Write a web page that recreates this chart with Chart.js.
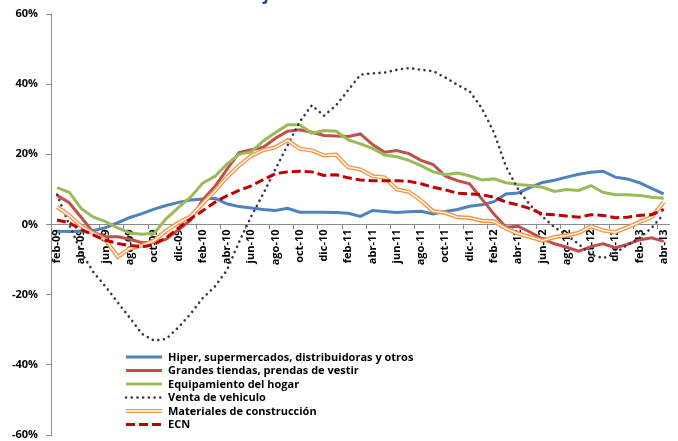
<!DOCTYPE html>
<html lang="es">
<head>
<meta charset="utf-8">
<title>Ventas del comercio minorista</title>
<script src="https://cdn.jsdelivr.net/npm/chart.js@4.4.1/dist/chart.umd.min.js"></script>
<style>
  html, body { margin: 0; padding: 0; background: #fff; }
  #grafico { display: block; }
</style>
</head>
<body>
<canvas id="grafico" width="678" height="441"></canvas>
<script>
// Porcentaje de variación interanual, feb-09 a abr-13
const titulo = 'Porcentaje de variación interanual';

const meses = [
  'feb-09','mar-09','abr-09','may-09','jun-09','jul-09','ago-09','sep-09','oct-09','nov-09','dic-09',
  'ene-10','feb-10','mar-10','abr-10','may-10','jun-10','jul-10','ago-10','sep-10','oct-10','nov-10','dic-10',
  'ene-11','feb-11','mar-11','abr-11','may-11','jun-11','jul-11','ago-11','sep-11','oct-11','nov-11','dic-11',
  'ene-12','feb-12','mar-12','abr-12','may-12','jun-12','jul-12','ago-12','sep-12','oct-12','nov-12','dic-12',
  'ene-13','feb-13','mar-13','abr-13'
];

const hiper = [-1.9,-2.0,-1.9,-1.8,-0.9,0.5,2.0,3.1,4.4,5.4, 6.3,7.0,7.3,7.5,5.9,5.1,4.7,4.3,4.0,4.6,
  3.5,3.5,3.5,3.4,3.2,2.3,4.0,3.7,3.4,3.6, 3.8,3.0,3.7,4.3,5.2,5.6,6.5,8.7,9.0,10.6,
  12.0,12.6,13.5,14.3,14.9,15.2,13.5,13.0,11.9,10.3, 8.7];

const grandes = [8.3,6.2,2.0,-2.3,-3.5,-3.5,-4.2,-5.2,-5.0,-4.2, -1.5,1.2,7.0,10.8,15.7,20.5,21.3,22.0,24.6,26.6,
  27.0,26.3,25.4,25.2,25.1,25.8,22.8,20.6,21.1,20.2, 18.3,17.1,13.8,12.5,11.6,7.3,3.0,-0.8,-0.5,-2.2,
  -4.1,-5.5,-6.5,-7.6,-6.3,-5.5,-6.6,-5.7,-4.4,-3.8, -4.8];

const equipamiento = [10.5,9.2,4.5,2.1,0.8,-1.0,-2.4,-2.8,-2.5,1.7, 4.8,7.8,11.8,13.7,17.2,20.0,20.7,23.8,26.2,28.4,
  28.4,26.0,26.8,26.6,24.1,23.0,21.7,19.8,19.3,18.3, 16.8,15.0,14.2,14.7,13.9,12.7,13.0,11.9,11.4,11.1,
  10.6,9.4,10.0,9.7,11.1,9.2,8.5,8.5,8.3,7.8, 7.5];

const vehiculos = [8.5,0.0,-8.0,-13.6,-17.7,-22.2,-26.6,-31.2,-33.1,-32.6, -29.3,-25.5,-21.0,-17.7,-13.0,-5.0,2.3,8.8,15.8,22.6,
  29.3,34.0,31.0,34.0,38.3,42.7,43.1,43.3,44.1,44.6, 44.1,43.7,41.9,39.8,38.0,33.2,26.3,16.5,10.0,5.5,
  2.3,-0.8,-3.0,-5.6,-8.6,-9.6,-8.2,-5.8,-3.8,-1.0, 3.0];

const construccion = [5.0,2.6,-0.5,-2.5,-4.4,-9.2,-6.8,-6.0,-4.6,-1.8, 0.5,2.3,6.0,9.5,13.5,16.8,19.6,21.2,22.0,24.0,
  21.6,21.1,19.7,19.9,16.3,15.7,13.8,13.4,10.0,9.3, 6.8,3.8,3.3,2.1,1.9,1.1,0.9,-1.2,-2.6,-3.6,
  -4.6,-3.6,-3.1,-2.4,-0.5,-1.7,-2.2,-0.8,0.7,2.1, 6.4];

const ecn = [1.3,0.5,-1.5,-3.0,-4.5,-5.4,-6.0,-6.4,-5.7,-3.8, -1.0,1.6,3.9,6.3,8.2,9.7,11.0,12.8,14.5,15.0,
  15.2,15.0,14.0,14.2,13.3,12.7,12.5,12.5,12.5,12.3, 11.6,10.6,9.9,8.9,8.7,8.5,7.8,6.4,5.6,4.5,
  3.0,2.8,2.4,2.1,2.8,2.6,1.9,2.1,2.6,2.8, 4.3];

const fuente = '"Open Sans", "Liberation Sans", sans-serif';
const colorEje = '#8c8c8c';

// leyenda dibujada dentro del área del gráfico, abajo a la izquierda
const leyenda = {
  id: 'leyenda',
  afterDraw(chart) {
    const ctx = chart.ctx;
    const sets = chart.data.datasets;
    let fila = 0;
    ctx.save();
    sets.forEach((ds, i) => {
      if (ds.interior) return;
      const y = 357 + fila * 13.5;
      const trazar = (d) => {
        ctx.beginPath();
        ctx.setLineDash(d.borderDash || []);
        ctx.lineCap = d.borderCapStyle || 'butt';
        ctx.lineWidth = d.borderWidth;
        ctx.strokeStyle = d.borderColor;
        ctx.moveTo(126, y);
        ctx.lineTo(162, y);
        ctx.stroke();
      };
      trazar(ds);
      if (sets[i + 1] && sets[i + 1].interior) trazar(sets[i + 1]);
      ctx.setLineDash([]);
      ctx.fillStyle = '#000';
      ctx.font = 'bold 11px ' + fuente;
      ctx.textAlign = 'left';
      ctx.textBaseline = 'middle';
      ctx.fillText(ds.label, 168, y + 0.5);
      fila++;
    });
    ctx.restore();
  }
};

// el título queda recortado por el borde superior
const tituloCortado = {
  id: 'tituloCortado',
  afterDraw(chart) {
    const ctx = chart.ctx;
    ctx.save();
    ctx.font = 'bold 17px ' + fuente;
    ctx.fillStyle = '#1F497D';
    ctx.textAlign = 'center';
    ctx.textBaseline = 'alphabetic';
    ctx.fillText(titulo, 334, 0.4);
    ctx.restore();
  }
};

const serie = (label, data, color, extra) => Object.assign({
  label, data,
  borderColor: color,
  backgroundColor: color,
  borderWidth: 3,
  pointRadius: 0,
  tension: 0,
  fill: false
}, extra || {});

const sinRelleno = (s) => { s.paddingTop = 0; s.paddingBottom = 0; };

new Chart(document.getElementById('grafico'), {
  type: 'line',
  data: {
    labels: meses,
    datasets: [
      serie('Hiper, supermercados, distribuidoras y otros', hiper, '#4F81BD', { order: 6 }),
      serie('Grandes tiendas, prendas de vestir', grandes, '#C0504D', { order: 5 }),
      serie('Equipamiento del hogar', equipamiento, '#9BBB59', { order: 4 }),
      serie('Venta de vehiculo', vehiculos, '#3F3151', {
        order: 3, borderWidth: 2.6, borderDash: [0.1, 5.6], borderCapStyle: 'round'
      }),
      serie('Materiales de construcción', construccion, '#F79646', { order: 2, borderWidth: 4.2 }),
      serie('', construccion, '#ffffff', { order: 1, borderWidth: 1.4, interior: true }),
      serie('ECN', ecn, '#C00000', { order: 0, borderWidth: 3, borderDash: [9, 4] })
    ]
  },
  options: {
    responsive: false,
    animation: false,
    layout: { padding: { left: 0, right: 7, top: 14, bottom: 6 } },
    plugins: {
      legend: { display: false },
      tooltip: { enabled: false },
      title: { display: false }
    },
    scales: {
      x: {
        type: 'category',
        offset: true,
        position: { y: 0 },
        border: { color: colorEje, width: 1 },
        grid: {
          offset: true,
          drawOnChartArea: false,
          drawTicks: true,
          tickLength: 4,
          color: (c) => (c.index % 2 === 0 ? colorEje : 'rgba(0,0,0,0)')
        },
        ticks: {
          autoSkip: false,
          minRotation: 90,
          maxRotation: 90,
          padding: 1,
          color: '#000',
          font: { family: fuente, size: 11, weight: 'bold' },
          callback: (v, i) => (i % 2 === 0 ? meses[i] : '')
        },
        afterFit: sinRelleno
      },
      y: {
        min: -60,
        max: 60,
        border: { color: colorEje, width: 1 },
        grid: { drawOnChartArea: false, drawTicks: true, tickLength: 5, color: colorEje },
        ticks: {
          stepSize: 20,
          padding: 8,
          color: '#000',
          font: { family: fuente, size: 11, weight: 'bold' },
          callback: (v) => v + '%'
        },
        afterFit: (s) => { s.width = 51; sinRelleno(s); }
      }
    }
  },
  plugins: [leyenda, tituloCortado]
});
</script>
</body>
</html>
